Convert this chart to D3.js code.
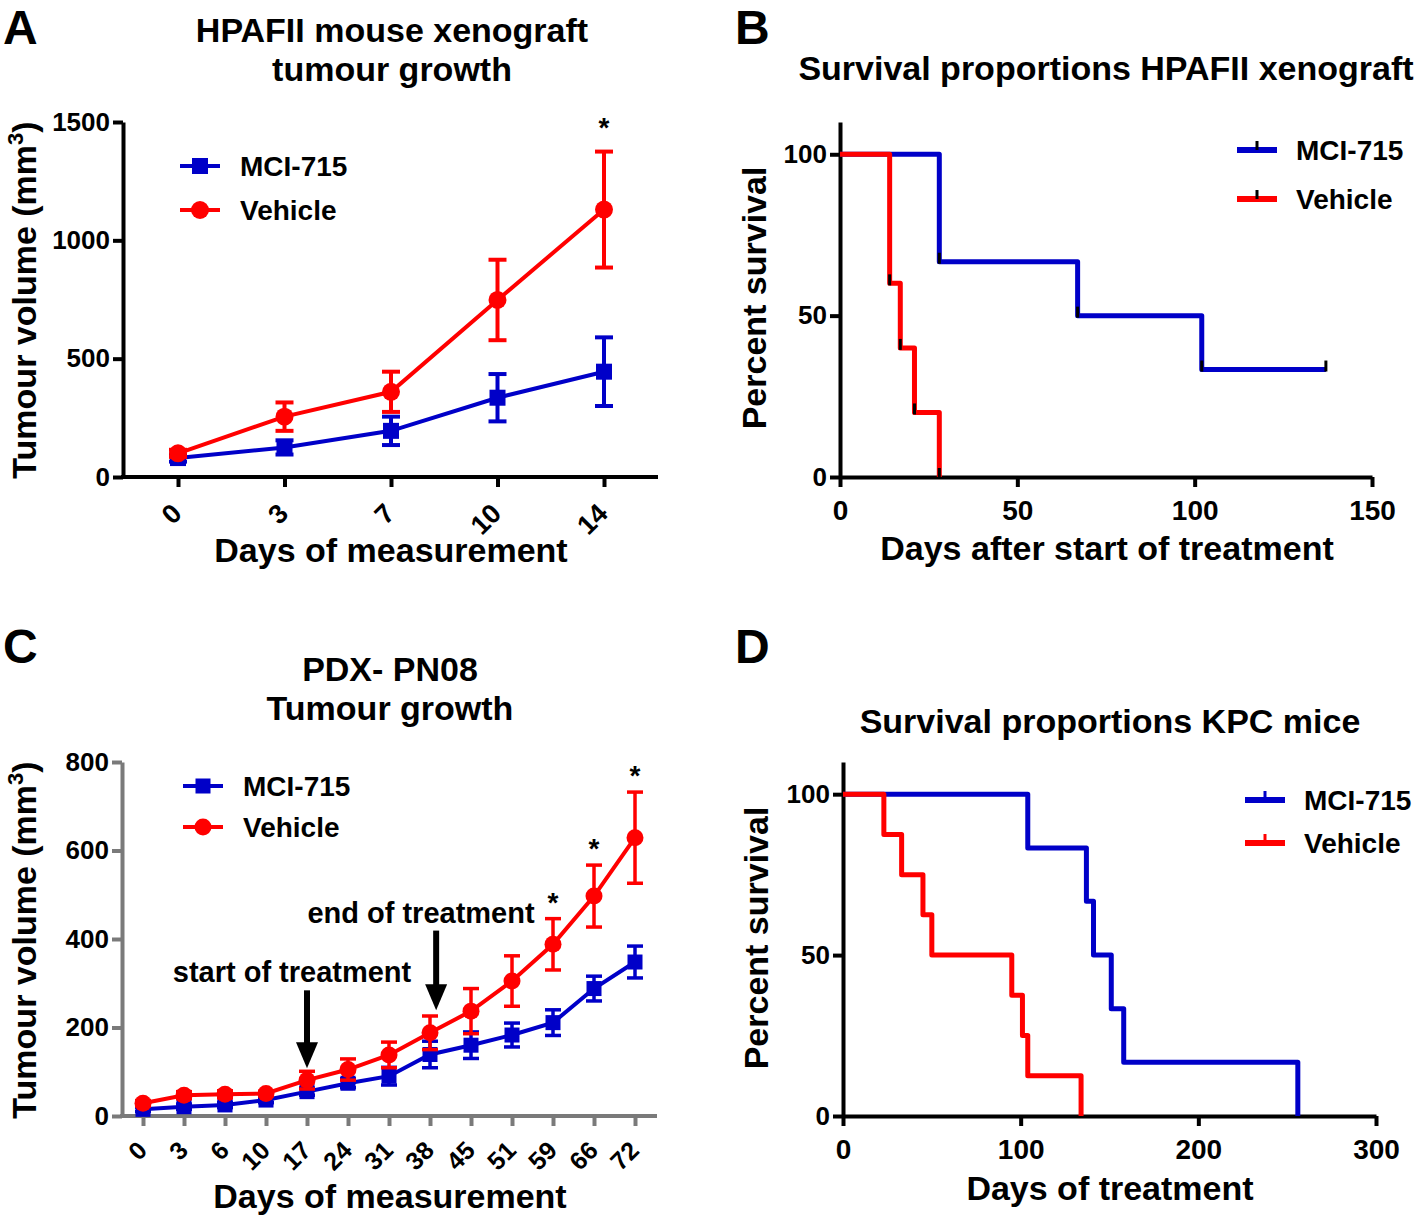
<!DOCTYPE html>
<html>
<head>
<meta charset="utf-8">
<script src="https://cdn.jsdelivr.net/npm/d3@7"></script>
<style>
  body { margin: 0; background: #fff; }
  text { font-family: "Liberation Sans", Arial, sans-serif; font-weight: bold; fill: #000; }
</style>
</head>
<body>
<svg id="fig" width="1418" height="1216"></svg>
<script>
// ---- data ----
var daysA = ["0", "3", "7", "10", "14"];
var mciMeanA = [80, 125, 195, 335, 445];
var mciSemA = [15, 30, 60, 100, 145];
var vehMeanA = [100, 255, 360, 748, 1130];
var vehSemA = [15, 60, 85, 170, 245];
var starDaysA = ["14"];

var daysC = ["0", "3", "6", "10", "17", "24", "31", "38", "45", "51", "59", "66", "72"];
var mciMeanC = [15, 21, 25, 36, 55, 74, 90, 139, 160, 183, 211, 288, 348];
var mciSemC = [5, 6, 6, 6, 8, 10, 20, 30, 30, 27, 29, 28, 36];
var vehMeanC = [29, 47, 49, 51, 81, 105, 138, 188, 237, 305, 388, 497, 629];
var vehSemC = [6, 8, 8, 5, 20, 24, 29, 38, 51, 57, 58, 70, 103];
var starDaysC = ["59", "66", "72"];

var survTimeB_mci = [0, 28, 67, 102, 137];
var survPctB_mci = [100, 66.7, 50, 33.3, 33.3];
var survTimeB_veh = [0, 14, 17, 21, 28];
var survPctB_veh = [100, 60, 40, 20, 0];

var survTimeD_mci = [0, 104, 137, 141, 151, 158, 256];
var survPctD_mci = [100, 83.3, 66.7, 50, 33.3, 16.7, 0];
var survTimeD_veh = [0, 23, 33, 45, 50, 95, 101, 104, 134];
var survPctD_veh = [100, 87.5, 75, 62.5, 50, 37.5, 25, 12.5, 0];

var seriesNames = ["MCI-715", "Vehicle"];
var BLUE = "#0000c8", RED = "#ff0000";

var svg = d3.select("#fig");
var fmt = d3.format("d");

function styleAxis(ax, color, size) {
  ax.attr("font-size", null).attr("font-family", null);
  ax.selectAll("line").attr("stroke", color).attr("stroke-width", 4);
  ax.selectAll(".domain").attr("stroke", color).attr("stroke-width", 4);
  ax.selectAll("text").style("font-size", size + "px");
}

function yLabel(x, y, txt, sup) {
  var t = svg.append("text")
    .attr("transform", "translate(" + x + "," + y + ") rotate(-90)")
    .attr("text-anchor", "middle")
    .style("font-size", "34px")
    .text(txt);
  if (sup) {
    t.append("tspan").attr("dy", -13).style("font-size", "22px").text("3");
    t.append("tspan").attr("dy", 13).text(")");
  }
}

function plainText(x, y, txt, size, anchor) {
  return svg.append("text").attr("x", x).attr("y", y)
    .attr("text-anchor", anchor || "middle")
    .style("font-size", size + "px").text(txt);
}

// ---- tumour growth panel ----
function drawGrowth(p) {
  var x = d3.scalePoint().domain(p.days).range([p.xFirst, p.xLast]);
  var y = d3.scaleLinear().domain([0, p.yMax]).range([p.yBottom, p.yTop]);
  var g = svg.append("g");

  var xa = g.append("g").attr("transform", "translate(0," + p.yBottom + ")")
    .call(d3.axisBottom(x).tickSize(10).tickSizeOuter(0));
  xa.select(".domain").remove();
  xa.append("line").attr("x1", p.xStart - 2).attr("x2", p.xEnd).attr("y1", 0).attr("y2", 0);
  styleAxis(xa, p.axisColor, p.xTickSize);
  xa.selectAll("text")
    .attr("x", 0).attr("y", 0).attr("dy", 0)
    .attr("transform", "translate(5," + p.labelDrop + ") rotate(-45)")
    .style("text-anchor", "end");

  var ya = g.append("g").attr("transform", "translate(" + p.xStart + ",0)")
    .call(d3.axisLeft(y).tickValues(p.yTicks).tickFormat(fmt).tickSize(10).tickSizeOuter(0).tickPadding(3));
  styleAxis(ya, p.axisColor, 26);

  var line = d3.line().x(function (d) { return x(d.day); }).y(function (d) { return y(d.mean); });

  p.series.forEach(function (s) {
    var pts = p.days.map(function (d, i) { return { day: d, mean: s.mean[i], sem: s.sem[i] }; });
    var sg = g.append("g");
    sg.append("path").datum(pts).attr("d", line)
      .attr("fill", "none").attr("stroke", s.color).attr("stroke-width", 4);
    var eb = sg.selectAll(".eb").data(pts).enter().append("g")
      .attr("stroke", s.color).attr("stroke-width", p.ebWidth);
    eb.append("line")
      .attr("x1", function (d) { return x(d.day); }).attr("x2", function (d) { return x(d.day); })
      .attr("y1", function (d) { return y(d.mean - d.sem); }).attr("y2", function (d) { return y(d.mean + d.sem); });
    eb.append("line")
      .attr("x1", function (d) { return x(d.day) - p.cap; }).attr("x2", function (d) { return x(d.day) + p.cap; })
      .attr("y1", function (d) { return y(d.mean + d.sem); }).attr("y2", function (d) { return y(d.mean + d.sem); });
    eb.append("line")
      .attr("x1", function (d) { return x(d.day) - p.cap; }).attr("x2", function (d) { return x(d.day) + p.cap; })
      .attr("y1", function (d) { return y(d.mean - d.sem); }).attr("y2", function (d) { return y(d.mean - d.sem); });
    if (s.shape === "square") {
      sg.selectAll(".m").data(pts).enter().append("rect")
        .attr("x", function (d) { return x(d.day) - p.mk; }).attr("y", function (d) { return y(d.mean) - p.mk; })
        .attr("width", p.mk * 2).attr("height", p.mk * 2).attr("fill", s.color);
    } else {
      sg.selectAll(".m").data(pts).enter().append("circle")
        .attr("cx", function (d) { return x(d.day); }).attr("cy", function (d) { return y(d.mean); })
        .attr("r", p.mk + 1).attr("fill", s.color);
    }
  });

  // significance stars above the vehicle error bars
  var veh = p.series[1];
  p.stars.forEach(function (d) {
    var i = p.days.indexOf(d);
    plainText(x(d), y(veh.mean[i] + veh.sem[i]) - p.starGap + 15, "*", 28);
  });

  // legend
  p.series.forEach(function (s, i) {
    var ly = p.legY + i * p.legGap;
    svg.append("line").attr("x1", p.legX).attr("x2", p.legX + 40).attr("y1", ly).attr("y2", ly)
      .attr("stroke", s.color).attr("stroke-width", 4);
    if (s.shape === "square") {
      svg.append("rect").attr("x", p.legX + 20 - p.mk).attr("y", ly - p.mk)
        .attr("width", p.mk * 2).attr("height", p.mk * 2).attr("fill", s.color);
    } else {
      svg.append("circle").attr("cx", p.legX + 20).attr("cy", ly).attr("r", p.mk + 1).attr("fill", s.color);
    }
    plainText(p.legX + 60, ly + 10, seriesNames[i], 28, "start");
  });

  return { x: x, y: y };
}

// ---- survival panel ----
function drawSurvival(p) {
  var x = d3.scaleLinear().domain([0, p.xMax]).range([p.xStart, p.xEnd]);
  var y = d3.scaleLinear().domain([0, 110]).range([p.yBottom, p.yTop]);
  var g = svg.append("g");

  var xa = g.append("g").attr("transform", "translate(0," + p.yBottom + ")")
    .call(d3.axisBottom(x).tickValues(p.xTicks).tickFormat(fmt).tickSize(10).tickSizeOuter(0).tickPadding(8));
  styleAxis(xa, "#000", 28);
  xa.selectAll("text").attr("dy", "0.9em");
  var ya = g.append("g").attr("transform", "translate(" + p.xStart + ",0)")
    .call(d3.axisLeft(y).tickValues([0, 50, 100]).tickFormat(fmt).tickSize(10).tickSizeOuter(0).tickPadding(3));
  styleAxis(ya, "#000", 26);

  var step = d3.line().curve(d3.curveStepAfter)
    .x(function (d) { return x(d[0]); }).y(function (d) { return y(d[1]); });

  p.series.forEach(function (s) {
    var pts = s.t.map(function (t, i) { return [t, s.pct[i]]; });
    g.append("path").datum(pts).attr("d", step)
      .attr("fill", "none").attr("stroke", s.color).attr("stroke-width", 5)
      .attr("stroke-linejoin", "round");
    if (p.censor) {
      g.selectAll(".c").data(pts.slice(1)).enter().append("line")
        .attr("x1", function (d) { return x(d[0]); }).attr("x2", function (d) { return x(d[0]); })
        .attr("y1", function (d) { return y(d[1]) - 9; }).attr("y2", function (d) { return y(d[1]) + 2; })
        .attr("stroke", "#000").attr("stroke-width", 3);
    }
  });

  p.series.forEach(function (s, i) {
    var ly = p.legY + i * p.legGap;
    svg.append("line").attr("x1", p.legX).attr("x2", p.legX + 40).attr("y1", ly).attr("y2", ly)
      .attr("stroke", s.color).attr("stroke-width", 6);
    svg.append("line").attr("x1", p.legX + 20).attr("x2", p.legX + 20).attr("y1", ly - 9).attr("y2", ly)
      .attr("stroke", p.censor ? "#000" : s.color).attr("stroke-width", 3);
    plainText(p.legX + 59, ly + 10, seriesNames[i], 28, "start");
  });
}

// ---- Panel A ----
plainText(3, 44, "A", 48, "start");
plainText(392, 42, "HPAFII mouse xenograft", 34);
plainText(392, 81, "tumour growth", 34);
drawGrowth({
  days: daysA, xStart: 123, xEnd: 658, xFirst: 178, xLast: 604,
  yTop: 122, yBottom: 477, yMax: 1500, yTicks: [0, 500, 1000, 1500],
  axisColor: "#000", labelDrop: 38, xTickSize: 27, ebWidth: 4, cap: 9, mk: 8,
  series: [
    { mean: mciMeanA, sem: mciSemA, color: BLUE, shape: "square" },
    { mean: vehMeanA, sem: vehSemA, color: RED, shape: "circle" }
  ],
  stars: starDaysA, starGap: 30, legX: 180, legY: 166, legGap: 44
});
yLabel(36, 300, "Tumour volume (mm", true);
plainText(391, 562, "Days of measurement", 34);

// ---- Panel B ----
plainText(735, 44, "B", 48, "start");
plainText(1106, 80, "Survival proportions HPAFII xenograft", 34);
drawSurvival({
  xMax: 150, xTicks: [0, 50, 100, 150], xStart: 840, xEnd: 1372, yTop: 122, yBottom: 477,
  censor: true,
  series: [
    { t: survTimeB_mci, pct: survPctB_mci, color: BLUE },
    { t: survTimeB_veh, pct: survPctB_veh, color: RED }
  ],
  legX: 1237, legY: 150, legGap: 49
});
yLabel(766, 298, "Percent survival", false);
plainText(1107, 560, "Days after start of treatment", 34);

// ---- Panel C ----
plainText(3, 663, "C", 48, "start");
plainText(390, 681, "PDX- PN08", 34);
plainText(390, 720, "Tumour growth", 34);
var sc = drawGrowth({
  days: daysC, xStart: 122, xEnd: 657, xFirst: 143, xLast: 635,
  yTop: 762, yBottom: 1116, yMax: 800, yTicks: [0, 200, 400, 600, 800],
  axisColor: "#7a7a7a", labelDrop: 36, xTickSize: 25, ebWidth: 3.5, cap: 8, mk: 7.5,
  series: [
    { mean: mciMeanC, sem: mciSemC, color: BLUE, shape: "square" },
    { mean: vehMeanC, sem: vehSemC, color: RED, shape: "circle" }
  ],
  stars: starDaysC, starGap: 22, legX: 183, legY: 786, legGap: 41
});
yLabel(36, 940, "Tumour volume (mm", true);
plainText(390, 1208, "Days of measurement", 34);

// treatment arrows
function arrow(xp, yFrom, yTip) {
  svg.append("line").attr("x1", xp).attr("x2", xp).attr("y1", yFrom).attr("y2", yTip - 20)
    .attr("stroke", "#000").attr("stroke-width", 6);
  svg.append("path")
    .attr("d", "M" + (xp - 11) + "," + (yTip - 26) + "L" + (xp + 11) + "," + (yTip - 26) + "L" + xp + "," + yTip + "Z")
    .attr("fill", "#000");
}
var stepC = sc.x.step();
arrow(sc.x("17"), sc.y(284), sc.y(108));
plainText(292, 982, "start of treatment", 29);
arrow(sc.x("38") + 0.15 * stepC, sc.y(419), sc.y(239));
plainText(421, 923, "end of treatment", 29);

// ---- Panel D ----
plainText(735, 663, "D", 48, "start");
plainText(1110, 733, "Survival proportions KPC mice", 34);
drawSurvival({
  xMax: 300, xTicks: [0, 100, 200, 300], xStart: 843, xEnd: 1376, yTop: 762, yBottom: 1116,
  censor: false,
  series: [
    { t: survTimeD_mci, pct: survPctD_mci, color: BLUE },
    { t: survTimeD_veh, pct: survPctD_veh, color: RED }
  ],
  legX: 1245, legY: 800, legGap: 43
});
yLabel(768, 938, "Percent survival", false);
plainText(1110, 1200, "Days of treatment", 34);
</script>
</body>
</html>
